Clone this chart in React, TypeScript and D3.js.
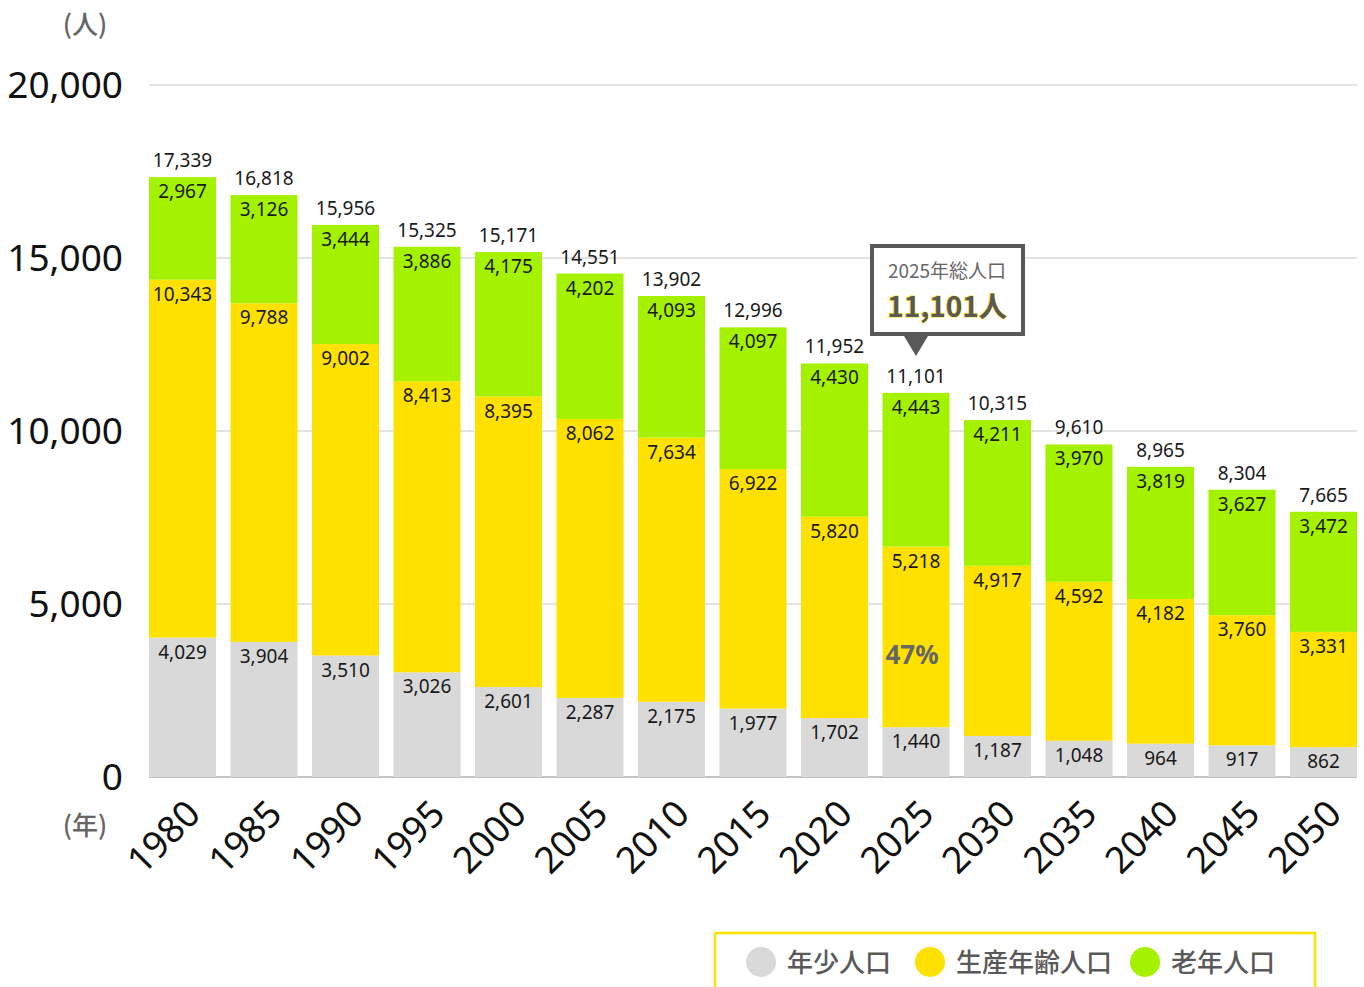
import React, { useEffect, useRef } from "react";
import * as d3 from "d3";

const years = ["1980", "1985", "1990", "1995", "2000", "2005", "2010", "2015", "2020", "2025", "2030", "2035", "2040", "2045", "2050"];
const young = [4029, 3904, 3510, 3026, 2601, 2287, 2175, 1977, 1702, 1440, 1187, 1048, 964, 917, 862];
const working = [10343, 9788, 9002, 8413, 8395, 8062, 7634, 6922, 5820, 5218, 4917, 4592, 4182, 3760, 3331];
const old = [2967, 3126, 3444, 3886, 4175, 4202, 4093, 4097, 4430, 4443, 4211, 3970, 3819, 3627, 3472];
const totals = [17339, 16818, 15956, 15325, 15171, 14551, 13902, 12996, 11952, 11101, 10315, 9610, 8965, 8304, 7665];
const yTicks = [0, 5000, 10000, 15000, 20000];
const seriesNames = ["年少人口", "生産年齢人口", "老年人口"];
const colors = ["#d9d9d9", "#ffe100", "#a5f200"];

const FONT = "'Noto Sans', 'Noto Sans CJK JP', sans-serif";
const JP = "'Noto Sans CJK JP', 'Noto Sans', sans-serif";

const App = () => {
    const svgRef = useRef<SVGSVGElement>(null);

    useEffect(() => {
        const svg = d3.select(svgRef.current);
        svg.selectAll("*").remove();

        const x = d3.scaleBand().domain(years).range([149, 1357]).paddingInner(0.178).paddingOuter(0);
        const y = d3.scaleLinear().domain([0, 20000]).range([777, 85]);

        // グリッド
        svg.append("g").selectAll("line")
            .data(yTicks)
            .enter().append("line")
            .attr("x1", 149).attr("x2", 1357)
            .attr("y1", d => y(d)).attr("y2", d => y(d))
            .attr("stroke", d => d === 0 ? "#888" : "#c8c8c8")
            .attr("stroke-width", 1.2);

        svg.append("g").selectAll("text")
            .data(yTicks)
            .enter().append("text")
            .attr("x", 123).attr("y", d => y(d))
            .attr("dy", "0.35em")
            .attr("text-anchor", "end")
            .style("font-family", FONT)
            .style("font-size", "37px")
            .attr("fill", "#111")
            .text(d => d3.format(",")(d));

        svg.append("text").attr("x", 85).attr("y", 34).attr("text-anchor", "middle")
            .style("font-family", JP).style("font-size", "26px").style("font-weight", 500).attr("fill", "#666").text("(人)");
        svg.append("text").attr("x", 85).attr("y", 835).attr("text-anchor", "middle")
            .style("font-family", JP).style("font-size", "26px").style("font-weight", 500).attr("fill", "#666").text("(年)");

        // 積み上げ
        const rows = years.map((yr, i) => ({ year: yr, young: young[i], working: working[i], old: old[i], total: totals[i] }));
        const stack = d3.stack<any>().keys(["young", "working", "old"]);
        const layers = stack(rows);

        layers.forEach((layer, li) => {
            const g = svg.append("g");
            g.selectAll("rect")
                .data(layer)
                .enter().append("rect")
                .attr("x", d => x(d.data.year)!)
                .attr("width", x.bandwidth())
                .attr("y", d => y(d[1]))
                .attr("height", d => y(d[0]) - y(d[1]))
                .attr("fill", colors[li]);
            g.selectAll("text")
                .data(layer)
                .enter().append("text")
                .attr("x", d => x(d.data.year)! + x.bandwidth() / 2)
                .attr("y", d => y(d[1]) + 21)
                .attr("text-anchor", "middle")
                .style("font-family", FONT)
                .style("font-size", "19px")
                .attr("fill", "#1a1a1a")
                .text(d => d3.format(",")(d[1] - d[0]));
        });

        svg.append("g").selectAll("text")
            .data(rows)
            .enter().append("text")
            .attr("x", d => x(d.year)! + x.bandwidth() / 2)
            .attr("y", d => y(d.total) - 10)
            .attr("text-anchor", "middle")
            .style("font-family", FONT)
            .style("font-size", "19px")
            .attr("fill", "#1a1a1a")
            .text(d => d3.format(",")(d.total));

        // 年ラベル
        svg.append("g").selectAll("text")
            .data(years)
            .enter().append("text")
            .attr("transform", d => `translate(${x(d)! + x.bandwidth() / 2 + 20},${816}) rotate(-45)`)
            .attr("text-anchor", "end")
            .style("font-family", FONT)
            .style("font-size", "37px")
            .attr("fill", "#111")
            .text(d => d);

        // 2025 吹き出し
        const cx = x("2025")! + x.bandwidth() / 2;
        const box = svg.append("g");
        box.append("rect").attr("x", 872).attr("y", 246).attr("width", 151).attr("height", 88)
            .attr("fill", "#fff").attr("stroke", "#595959").attr("stroke-width", 4);
        box.append("path")
            .attr("d", `M${cx - 12},336 L${cx + 12},336 L${cx},356 Z`)
            .attr("fill", "#595959");
        box.append("text").attr("x", 947).attr("y", 278).attr("text-anchor", "middle")
            .style("font-family", JP).style("font-size", "19px").attr("fill", "#666").text("2025年総人口");
        box.append("text").attr("x", 947).attr("y", 317).attr("text-anchor", "middle")
            .style("font-family", JP).style("font-size", "28px").style("font-weight", "bold")
            .attr("fill", "#595959").attr("stroke", "#ffe100").attr("stroke-width", 1.2)
            .attr("paint-order", "stroke")
            .text(d3.format(",")(totals[9]) + "人");

        const i25 = years.indexOf("2025");
        svg.append("text").attr("x", cx - 4).attr("y", y(young[i25] + working[i25] * 0.35))
            .attr("text-anchor", "middle")
            .style("font-family", FONT).style("font-size", "26px").style("font-weight", "bold")
            .attr("fill", "#666")
            .text(Math.round(working[i25] / totals[i25] * 100) + "%");

        // 凡例
        const lg = svg.append("g");
        lg.append("rect").attr("x", 715).attr("y", 933).attr("width", 600).attr("height", 80)
            .attr("fill", "#fff").attr("stroke", "#ffe100").attr("stroke-width", 2.5);
        const legendX = [761, 930, 1145];
        seriesNames.forEach((name, i) => {
            lg.append("ellipse").attr("cx", legendX[i]).attr("cy", 962).attr("rx", 15).attr("ry", 15).attr("fill", colors[i]);
            lg.append("text").attr("x", legendX[i] + 26).attr("y", 972)
                .style("font-family", JP).style("font-size", "26px").style("font-weight", 500).attr("fill", "#595959").text(name);
        });
    }, []);

    return <svg ref={svgRef} width={1364} height={987} style={{ position: "absolute", left: 0, top: 0 }}></svg>;
};

export default App;
